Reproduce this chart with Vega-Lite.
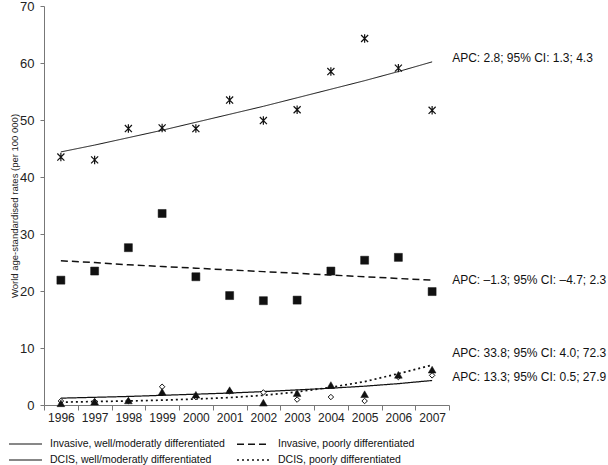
{
  "$schema": "https://vega.github.io/schema/vega-lite/v6.json",
  "width": 405,
  "height": 399,
  "autosize": "none",
  "padding": {"left": 44, "top": 6, "right": 159, "bottom": 60},
  "background": "white",
  "config": {
    "view": {"stroke": null},
    "font": "Liberation Sans",
    "axis": {"grid": false, "domainColor": "#777", "tickColor": "#777", "labelColor": "#222", "labelFontSize": 12, "titleFontWeight": "normal", "titleColor": "#222", "titleFontSize": 9.5}
  },
  "datasets": {
    "main": [
      {"year": "1996", "series": "Invasive, well/moderatly differentiated", "value": 43.5, "trend": 44.4},
      {"year": "1997", "series": "Invasive, well/moderatly differentiated", "value": 43.0, "trend": 45.6},
      {"year": "1998", "series": "Invasive, well/moderatly differentiated", "value": 48.5, "trend": 46.9},
      {"year": "1999", "series": "Invasive, well/moderatly differentiated", "value": 48.6, "trend": 48.2},
      {"year": "2000", "series": "Invasive, well/moderatly differentiated", "value": 48.5, "trend": 49.6},
      {"year": "2001", "series": "Invasive, well/moderatly differentiated", "value": 53.5, "trend": 51.0},
      {"year": "2002", "series": "Invasive, well/moderatly differentiated", "value": 49.9, "trend": 52.4},
      {"year": "2003", "series": "Invasive, well/moderatly differentiated", "value": 51.8, "trend": 53.9},
      {"year": "2004", "series": "Invasive, well/moderatly differentiated", "value": 58.5, "trend": 55.4},
      {"year": "2005", "series": "Invasive, well/moderatly differentiated", "value": 64.3, "trend": 56.9},
      {"year": "2006", "series": "Invasive, well/moderatly differentiated", "value": 59.1, "trend": 58.5},
      {"year": "2007", "series": "Invasive, well/moderatly differentiated", "value": 51.7, "trend": 60.2},
      {"year": "1996", "series": "Invasive, poorly differentiated", "value": 21.9, "trend": 25.3},
      {"year": "1997", "series": "Invasive, poorly differentiated", "value": 23.5, "trend": 25.0},
      {"year": "1998", "series": "Invasive, poorly differentiated", "value": 27.6, "trend": 24.6},
      {"year": "1999", "series": "Invasive, poorly differentiated", "value": 33.6, "trend": 24.3},
      {"year": "2000", "series": "Invasive, poorly differentiated", "value": 22.5, "trend": 24.0},
      {"year": "2001", "series": "Invasive, poorly differentiated", "value": 19.2, "trend": 23.7},
      {"year": "2002", "series": "Invasive, poorly differentiated", "value": 18.3, "trend": 23.4},
      {"year": "2003", "series": "Invasive, poorly differentiated", "value": 18.4, "trend": 23.1},
      {"year": "2004", "series": "Invasive, poorly differentiated", "value": 23.5, "trend": 22.8},
      {"year": "2005", "series": "Invasive, poorly differentiated", "value": 25.4, "trend": 22.5},
      {"year": "2006", "series": "Invasive, poorly differentiated", "value": 25.9, "trend": 22.2},
      {"year": "2007", "series": "Invasive, poorly differentiated", "value": 19.9, "trend": 21.9},
      {"year": "1996", "series": "DCIS, well/moderatly differentiated", "value": 0.3, "trend": 1.2},
      {"year": "1997", "series": "DCIS, well/moderatly differentiated", "value": 0.6, "trend": 1.35},
      {"year": "1998", "series": "DCIS, well/moderatly differentiated", "value": 0.8, "trend": 1.5},
      {"year": "1999", "series": "DCIS, well/moderatly differentiated", "value": 2.3, "trend": 1.7},
      {"year": "2000", "series": "DCIS, well/moderatly differentiated", "value": 1.8, "trend": 1.9},
      {"year": "2001", "series": "DCIS, well/moderatly differentiated", "value": 2.6, "trend": 2.1},
      {"year": "2002", "series": "DCIS, well/moderatly differentiated", "value": 0.4, "trend": 2.35},
      {"year": "2003", "series": "DCIS, well/moderatly differentiated", "value": 2.1, "trend": 2.65},
      {"year": "2004", "series": "DCIS, well/moderatly differentiated", "value": 3.5, "trend": 2.95},
      {"year": "2005", "series": "DCIS, well/moderatly differentiated", "value": 1.9, "trend": 3.3},
      {"year": "2006", "series": "DCIS, well/moderatly differentiated", "value": 5.3, "trend": 3.75},
      {"year": "2007", "series": "DCIS, well/moderatly differentiated", "value": 6.2, "trend": 4.3},
      {"year": "1996", "series": "DCIS, poorly differentiated", "value": 0.7, "trend": 0.5},
      {"year": "1997", "series": "DCIS, poorly differentiated", "value": 0.6, "trend": 0.6},
      {"year": "1998", "series": "DCIS, poorly differentiated", "value": 0.7, "trend": 0.7},
      {"year": "1999", "series": "DCIS, poorly differentiated", "value": 3.2, "trend": 0.85},
      {"year": "2000", "series": "DCIS, poorly differentiated", "value": 1.4, "trend": 1.05},
      {"year": "2001", "series": "DCIS, poorly differentiated", "value": 2.4, "trend": 1.3},
      {"year": "2002", "series": "DCIS, poorly differentiated", "value": 2.2, "trend": 1.7},
      {"year": "2003", "series": "DCIS, poorly differentiated", "value": 0.95, "trend": 2.3},
      {"year": "2004", "series": "DCIS, poorly differentiated", "value": 1.4, "trend": 3.1},
      {"year": "2005", "series": "DCIS, poorly differentiated", "value": 0.7, "trend": 4.1},
      {"year": "2006", "series": "DCIS, poorly differentiated", "value": 4.9, "trend": 5.5},
      {"year": "2007", "series": "DCIS, poorly differentiated", "value": 5.2, "trend": 7.0}
    ],
    "notes": [
      {"year": "2007", "y": 60.8, "label": "APC: 2.8; 95% CI: 1.3; 4.3"},
      {"year": "2007", "y": 21.9, "label": "APC: –1.3; 95% CI: –4.7; 2.3"},
      {"year": "2007", "y": 9.1, "label": "APC: 33.8; 95% CI: 4.0; 72.3"},
      {"year": "2007", "y": 5.0, "label": "APC: 13.3; 95% CI: 0.5; 27.9"}
    ]
  },
  "layer": [
    {
      "data": {"name": "main"},
      "mark": {"type": "line", "color": "#111"},
      "encoding": {
        "x": {"field": "year", "type": "ordinal", "bandPosition": 0.5,
              "scale": {"type": "band", "paddingInner": 0, "paddingOuter": 0},
              "axis": {"title": null, "labelAngle": 0, "tickBand": "extent", "tickSize": 5, "labelPadding": 2}},
        "y": {"field": "trend", "type": "quantitative", "title": "World age-standardised rates (per 100 000)",
              "scale": {"domain": [0, 70]},
              "axis": {"values": [0, 10, 20, 30, 40, 50, 60, 70], "tickSize": 4, "labelPadding": 6, "titlePadding": 0, "labelFontSize": 13}},
        "strokeDash": {"field": "series", "type": "nominal",
              "scale": {"domain": ["Invasive, well/moderatly differentiated", "DCIS, well/moderatly differentiated", "Invasive, poorly differentiated", "DCIS, poorly differentiated"],
                        "range": [[1, 0], [1, 0], [7, 4], [2, 3]]},
              "legend": {"orient": "none", "legendX": -24.5, "legendY": 432, "columns": 2, "title": null, "symbolType": "M-3.3,0L3.3,0", "symbolSize": 100, "symbolStrokeColor": "#111", "labelFontSize": 10.5, "labelColor": "#111", "labelOffset": 18.5, "columnPadding": 8, "rowPadding": 4, "labelLimit": 400}},
        "strokeWidth": {"field": "series", "type": "nominal",
              "scale": {"domain": ["Invasive, well/moderatly differentiated", "DCIS, well/moderatly differentiated", "Invasive, poorly differentiated", "DCIS, poorly differentiated"],
                        "range": [1, 1.7, 1.3, 1.3]},
              "legend": {"orient": "none", "legendX": -24.5, "legendY": 432, "columns": 2, "title": null, "symbolType": "M-3.3,0L3.3,0", "symbolSize": 100, "symbolStrokeColor": "#111", "labelFontSize": 10.5, "labelColor": "#111", "labelOffset": 18.5, "columnPadding": 8, "rowPadding": 4, "labelLimit": 400}}
      }
    },
    {
      "data": {"name": "main"},
      "transform": [{"filter": "datum.series === 'Invasive, well/moderatly differentiated'"}],
      "mark": {"type": "point", "shape": "M-1,-1L1,1M-1,1L1,-1M0,-1.2L0,1.2", "filled": false, "stroke": "#111", "strokeWidth": 1.2, "size": 50, "opacity": 1},
      "encoding": {
        "x": {"field": "year", "type": "ordinal", "bandPosition": 0.5},
        "y": {"field": "value", "type": "quantitative", "title": "World age-standardised rates (per 100 000)"}
      }
    },
    {
      "data": {"name": "main"},
      "transform": [{"filter": "datum.series === 'Invasive, poorly differentiated'"}],
      "mark": {"type": "point", "shape": "square", "filled": true, "fill": "#111", "stroke": "#111", "strokeWidth": 0.5, "size": 64, "opacity": 1},
      "encoding": {
        "x": {"field": "year", "type": "ordinal", "bandPosition": 0.5},
        "y": {"field": "value", "type": "quantitative", "title": "World age-standardised rates (per 100 000)"}
      }
    },
    {
      "data": {"name": "main"},
      "transform": [{"filter": "datum.series === 'DCIS, poorly differentiated'"}],
      "mark": {"type": "point", "shape": "diamond", "filled": true, "fill": "white", "stroke": "#111", "strokeWidth": 1, "size": 30, "opacity": 1},
      "encoding": {
        "x": {"field": "year", "type": "ordinal", "bandPosition": 0.5},
        "y": {"field": "value", "type": "quantitative", "title": "World age-standardised rates (per 100 000)"}
      }
    },
    {
      "data": {"name": "main"},
      "transform": [{"filter": "datum.series === 'DCIS, well/moderatly differentiated'"}],
      "mark": {"type": "point", "shape": "triangle-up", "filled": true, "fill": "#111", "stroke": "#111", "strokeWidth": 0.5, "size": 60, "opacity": 1},
      "encoding": {
        "x": {"field": "year", "type": "ordinal", "bandPosition": 0.5},
        "y": {"field": "value", "type": "quantitative", "title": "World age-standardised rates (per 100 000)"}
      }
    },
    {
      "data": {"name": "notes"},
      "mark": {"type": "text", "align": "left", "baseline": "middle", "dx": 20, "fontSize": 12, "color": "#111"},
      "encoding": {
        "x": {"field": "year", "type": "ordinal", "bandPosition": 0.5},
        "y": {"field": "y", "type": "quantitative", "title": "World age-standardised rates (per 100 000)"},
        "text": {"field": "label"}
      }
    }
  ]
}
